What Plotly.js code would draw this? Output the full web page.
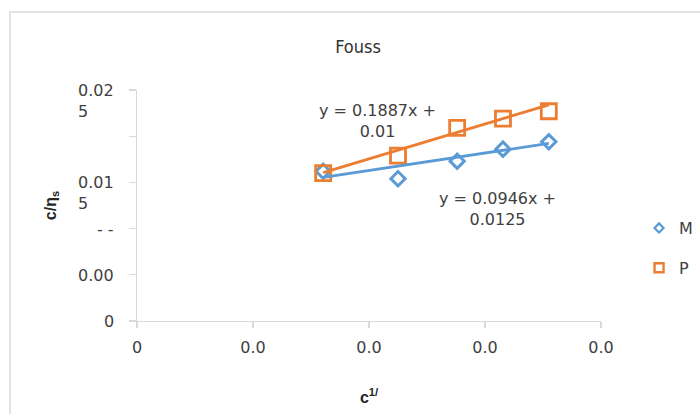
<!DOCTYPE html>
<html>
<head>
<meta charset="utf-8">
<script src="https://cdn.plot.ly/plotly-3.0.1.min.js"></script>
<style>
  html, body { margin: 0; padding: 0; background: #ffffff; }
  #chart { width: 700px; height: 414px; }
</style>
</head>
<body>
<div id="chart"></div>
<script>
// Fouss plot: c/ηs against c^1/2 for series M and P, with linear trendlines.
var seriesNames = ['M', 'P'];
var xValues = [0.0321, 0.0450, 0.0552, 0.0631, 0.0710];
var mValues = [0.0162, 0.0154, 0.0173, 0.0186, 0.0194];
var pValues = [0.0160, 0.0179, 0.0209, 0.0219, 0.0227];

// Trendline coefficients (y = slope * x + intercept)
var mSlope = 0.0946, mIntercept = 0.0125;
var pSlope = 0.1887, pIntercept = 0.01;

// Axis ticks and their (truncated) labels
var xTickVals = [0, 0.02, 0.04, 0.06, 0.08];
var xTickText = ['0', '0.0', '0.0', '0.0', '0.0'];
var yTickVals = [0, 0.005, 0.01, 0.015, 0.02, 0.025];
var yLabelVals = [0, 0.005, 0.01, 0.015, 0.025];
var yLabelText = ['0', '0.00', '- -', '0.01<br>5', '0.02<br>5'];

var blue = '#5B9BD5';
var orange = '#ED7D31';
var textColor = '#404040';
var axisColor = '#d9d9d9';
var baseFont = 'DejaVu Sans, Liberation Sans, Arial, sans-serif';

function trend(slope, intercept) {
  var x0 = Math.min.apply(null, xValues);
  var x1 = Math.max.apply(null, xValues);
  return { x: [x0, x1], y: [slope * x0 + intercept, slope * x1 + intercept] };
}
function eqText(slope, intercept) {
  return 'y = ' + slope + 'x +<br>' + intercept;
}

var mTrend = trend(mSlope, mIntercept);
var pTrend = trend(pSlope, pIntercept);

var traces = [
  { x: xValues, y: mValues, type: 'scatter', mode: 'markers', name: seriesNames[0],
    showlegend: false,
    marker: { symbol: 'diamond-open', size: 11, color: blue, line: { width: 3, color: blue } } },
  { x: xValues, y: pValues, type: 'scatter', mode: 'markers', name: seriesNames[1],
    showlegend: false,
    marker: { symbol: 'square-open', size: 15, color: orange, line: { width: 2.8, color: orange } } },
  { x: mTrend.x, y: mTrend.y, type: 'scatter', mode: 'lines', showlegend: false,
    line: { color: blue, width: 2.8 }, hoverinfo: 'skip' },
  { x: pTrend.x, y: pTrend.y, type: 'scatter', mode: 'lines', showlegend: false,
    line: { color: orange, width: 2.8 }, hoverinfo: 'skip' },
  // legend entries with small symbols
  { x: [null], y: [null], type: 'scatter', mode: 'markers', name: seriesNames[0],
    legendgroup: 'm',
    marker: { symbol: 'diamond-open', size: 7, color: blue, line: { width: 2.2, color: blue } } },
  { x: [null], y: [null], type: 'scatter', mode: 'markers', name: seriesNames[1],
    legendgroup: 'p',
    marker: { symbol: 'square-open', size: 9, color: orange, line: { width: 2.4, color: orange } } }
];

var annotations = [];
yLabelVals.forEach(function (v, i) {
  annotations.push({
    xref: 'paper', yref: 'y', x: -0.045, y: v,
    xanchor: 'right', yanchor: 'top', yshift: 11, align: 'left',
    text: yLabelText[i], showarrow: false,
    font: { family: baseFont, size: 16, color: textColor }
  });
});
annotations.push({
  xref: 'x', yref: 'y', x: 0.0414, y: 0.02160, xanchor: 'center', yanchor: 'middle',
  text: eqText(pSlope, pIntercept), showarrow: false, align: 'center',
  font: { family: baseFont, size: 16, color: textColor }
});
annotations.push({
  xref: 'x', yref: 'y', x: 0.0621, y: 0.01212, xanchor: 'center', yanchor: 'middle',
  text: eqText(mSlope, mIntercept), showarrow: false, align: 'center',
  font: { family: baseFont, size: 16, color: textColor }
});

var layout = {
  width: 700, height: 414,
  margin: { l: 137, r: 99, t: 90, b: 93, autoexpand: false },
  paper_bgcolor: '#ffffff', plot_bgcolor: '#ffffff',
  title: {
    text: 'Fouss', xref: 'container', yref: 'container',
    x: 358 / 700, xanchor: 'center', y: 1 - 47 / 414, yanchor: 'middle',
    font: { family: 'Liberation Sans Narrow, DejaVu Sans Condensed, sans-serif', size: 18, color: '#333333' }
  },
  xaxis: {
    range: [0, 0.08], tickvals: xTickVals, ticktext: xTickText,
    showgrid: false, zeroline: false, showline: true, linecolor: axisColor, linewidth: 1.3,
    ticks: 'outside', ticklen: 6, tickcolor: axisColor, tickwidth: 1.3,
    ticklabelstandoff: 5,
    tickfont: { family: baseFont, size: 16, color: textColor },
    title: { text: '<b>c<sup>1/</sup></b>', standoff: 36,
             font: { family: 'Liberation Sans, Arial, sans-serif', size: 16, color: '#262626' } }
  },
  yaxis: {
    range: [0, 0.025], tickvals: yTickVals, showticklabels: false,
    showgrid: false, zeroline: false, showline: true, linecolor: axisColor, linewidth: 1.3,
    ticks: 'outside', ticklen: 7, tickcolor: axisColor, tickwidth: 1.3,
    title: { text: '<b>c/η<sub>s</sub></b>', standoff: 68,
             font: { family: 'Liberation Sans, Arial, sans-serif', size: 16, color: '#262626' } }
  },
  legend: {
    x: 1.082, xanchor: 'left', y: 0.476, yanchor: 'top',
    tracegroupgap: 16, bgcolor: 'rgba(0,0,0,0)', itemwidth: 30,
    font: { family: baseFont, size: 16, color: textColor }
  },
  annotations: annotations,
  shapes: [{
    type: 'rect', xref: 'paper', yref: 'paper',
    x0: -0.2737, x1: 1.25, y0: -0.45, y1: 1.3377,
    line: { color: '#d9d9d9', width: 1.5 }, fillcolor: 'rgba(0,0,0,0)', layer: 'below'
  }]
};

Plotly.newPlot('chart', traces, layout, { staticPlot: true, displayModeBar: false });
</script>
</body>
</html>
